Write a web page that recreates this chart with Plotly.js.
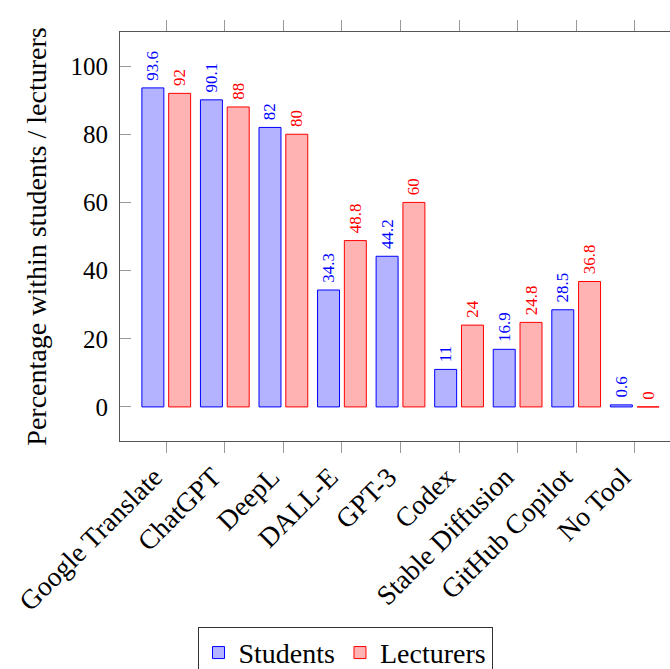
<!DOCTYPE html>
<html>
<head>
<meta charset="utf-8">
<script src="https://cdn.plot.ly/plotly-3.0.1.min.js"></script>
<style>
html,body{margin:0;padding:0;overflow:hidden;background:#fff;}
#chart{width:690px;height:669px;}
</style>
</head>
<body>
<div id="chart"></div>
<script>
const categories = ["Google Translate","ChatGPT","DeepL","DALL-E","GPT-3","Codex","Stable Diffusion","GitHub Copilot","No Tool"];
const students = [93.6, 90.1, 82, 34.3, 44.2, 11, 16.9, 28.5, 0.6];
const lecturers = [92, 88, 80, 48.8, 60, 24, 24.8, 36.8, 0];
const yTicks = [0, 20, 40, 60, 80, 100];

const FONT = "'Liberation Serif', 'Times New Roman', serif";

function series(name, vals, fill, stroke) {
  return {
    type: 'bar',
    name: name,
    x: categories,
    y: vals,
    text: vals.map(v => '\u00a0' + String(v)),
    texttemplate: '%{text}',
    textposition: 'outside',
    textangle: -90,
    constraintext: 'none',
    cliponaxis: false,
    textfont: {family: FONT, size: 17, color: stroke},
    marker: {color: fill, line: {color: stroke, width: 1}},
    hoverinfo: 'skip'
  };
}

const data = [
  series('Students', students, 'rgb(179,179,255)', 'rgb(0,0,255)'),
  series('Lecturers', lecturers, 'rgb(255,179,179)', 'rgb(255,0,0)')
];

const layout = {
  width: 690, height: 669,
  margin: {l: 120, r: 9, t: 32, b: 228, autoexpand: false},
  paper_bgcolor: '#fff', plot_bgcolor: '#fff',
  font: {family: FONT, size: 25, color: '#000'},
  barmode: 'group',
  bargap: 0.085,
  bargroupgap: 0.18,
  showlegend: true,
  legend: {
    orientation: 'h', xref: 'container', yref: 'container',
    x: 0.5, xanchor: 'center', y: 0.063, yanchor: 'top',
    bordercolor: '#333', borderwidth: 1, bgcolor: '#fff',
    font: {family: FONT, size: 28, color: '#000'},
    itemwidth: 30, tracegroupgap: 0
  },
  xaxis: {
    type: 'category',
    range: [-0.79, 8.79],
    tickangle: -45,
    ticks: 'outside', ticklen: 11, tickcolor: '#999', tickwidth: 1,
    showline: true, linecolor: '#555', linewidth: 1,
    mirror: 'ticks',
    showgrid: false, zeroline: false,
    ticklabelshift: -12,
    ticklabelstandoff: -3,
    tickfont: {family: FONT, size: 27.5, color: '#000'}
  },
  yaxis: {
    range: [-10, 110],
    tickvals: yTicks,
    ticktext: yTicks.map(String),
    ticks: 'inside', ticklen: 11, tickcolor: '#999', tickwidth: 1,
    showline: true, linecolor: '#555', linewidth: 1,
    showgrid: false, zeroline: false,
    ticklabelstandoff: 6,
    automargin: true,
    tickfont: {family: FONT, size: 25, color: '#000'},
    title: {text: 'Percentage within students / lecturers', standoff: 15, font: {family: FONT, size: 28, color: '#000'}}
  }
};

Plotly.newPlot('chart', data, layout, {displayModeBar: false, staticPlot: true});
</script>
</body>
</html>
